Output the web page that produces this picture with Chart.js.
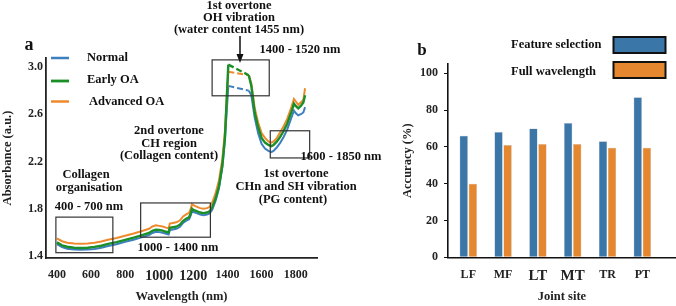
<!DOCTYPE html>
<html>
<head>
<meta charset="utf-8">
<script src="https://cdn.jsdelivr.net/npm/chart.js"></script>
<style>
  html, body { margin: 0; padding: 0; background: #fff; }
  #wrap { position: relative; width: 676px; height: 306px; overflow: hidden; }
  #boxA { position: absolute; left: 0; top: 0; width: 400px; height: 306px; }
  #boxB { position: absolute; left: 400px; top: 0; width: 276px; height: 306px; }
</style>
</head>
<body>
<div id="wrap">
  <div id="boxA"><canvas id="chartA"></canvas></div>
  <div id="boxB"><canvas id="chartB"></canvas></div>
</div>
<script>
// ---- panel a: NIR spectra ----
const wavelength = [400, 430, 460, 500, 540, 580, 620, 660, 700, 750, 800, 850, 900, 940, 960, 980,
    1000, 1020, 1040, 1055, 1062, 1080, 1100, 1120, 1140, 1160, 1175, 1185, 1192, 1200, 1215, 1240,
    1260, 1280, 1295, 1310, 1330, 1350, 1370, 1385, 1405, 1525, 1540, 1560, 1580, 1600, 1620, 1640,
    1657, 1670, 1690, 1710, 1730, 1750, 1765, 1775, 1790, 1800, 1815, 1830, 1845, 1855];

const normal = [1.50, 1.475, 1.462, 1.455, 1.452, 1.455, 1.46, 1.47, 1.485, 1.50, 1.52, 1.538, 1.56, 1.578, 1.595, 1.605,
    1.602, 1.597, 1.588, 1.582, 1.62, 1.625, 1.63, 1.645, 1.68, 1.70, 1.71, 1.745, 1.78, 1.772, 1.765, 1.75,
    1.745, 1.75, 1.76, 1.79, 1.865, 1.97, 2.15, 2.38, 2.84, 2.80, 2.76, 2.57, 2.44, 2.35, 2.31, 2.29,
    2.28, 2.29, 2.32, 2.36, 2.41, 2.47, 2.53, 2.57, 2.63, 2.61, 2.59, 2.60, 2.615, 2.66];

const earlyOA = [1.515, 1.49, 1.478, 1.47, 1.468, 1.47, 1.477, 1.487, 1.502, 1.518, 1.537, 1.555, 1.577, 1.595, 1.613, 1.623,
    1.62, 1.615, 1.605, 1.60, 1.638, 1.643, 1.648, 1.663, 1.698, 1.718, 1.728, 1.763, 1.80, 1.79, 1.782, 1.768,
    1.763, 1.768, 1.778, 1.81, 1.885, 1.99, 2.17, 2.40, 3.02, 2.93, 2.84, 2.61, 2.49, 2.40, 2.36, 2.34,
    2.33, 2.34, 2.37, 2.41, 2.46, 2.52, 2.58, 2.62, 2.69, 2.67, 2.65, 2.67, 2.70, 2.76];

const advancedOA = [1.55, 1.525, 1.512, 1.505, 1.503, 1.505, 1.512, 1.522, 1.537, 1.553, 1.572, 1.59, 1.612, 1.63, 1.65, 1.66,
    1.655, 1.65, 1.64, 1.635, 1.675, 1.68, 1.685, 1.70, 1.735, 1.755, 1.765, 1.80, 1.84, 1.83, 1.82, 1.805,
    1.80, 1.805, 1.815, 1.85, 1.93, 2.04, 2.22, 2.45, 2.96, 2.93, 2.86, 2.65, 2.53, 2.44, 2.40, 2.37,
    2.36, 2.37, 2.40, 2.45, 2.50, 2.56, 2.62, 2.66, 2.73, 2.71, 2.68, 2.70, 2.72, 2.82];

const xTicksA = [400, 600, 800, 1000, 1200, 1400, 1600, 1800];
const yTicksA = [1.4, 1.8, 2.2, 2.6, 3.0];

// ---- panel b: accuracy per joint site ----
const sites = ['LF', 'MF', 'LT', 'MT', 'TR', 'PT'];
const featureSelection = [66, 68, 70, 73, 63, 87];
const fullWavelength = [40, 61, 61.5, 61.5, 59.5, 59.5];
const yTicksB = [0, 20, 40, 60, 80, 100];

const SERIF = '"Liberation Serif", "DejaVu Serif", serif';
const INK = '#222';
const BLUE = '#3d7fbf', GREEN = '#1a8f28', ORANGE = '#ee8a2d';
const BAR_BLUE = '#3a76a8', BAR_ORANGE = '#e5872f';

const bold = (size) => ({ family: SERIF, weight: 'bold', size: size });

// water band (1400-1520 nm) is drawn dashed
const waterDash = ctx => (ctx.p0.parsed.x >= 1400 && ctx.p1.parsed.x <= 1530) ? [6, 3] : undefined;

const toPoints = (xs, ys) => xs.map((v, i) => ({ x: v, y: ys[i] }));

// draws boxes / labels / legends / arrow
const annotPlugin = {
    id: 'annot',
    afterDatasetsDraw(chart, args, opts) {
        const ctx = chart.ctx;
        const sx = chart.scales.x, sy = chart.scales.y;
        ctx.save();
        (opts.boxes || []).forEach(b => {
            const l = sx.getPixelForValue(b.x0), r = sx.getPixelForValue(b.x1);
            const t = sy.getPixelForValue(b.y1), btm = sy.getPixelForValue(b.y0);
            ctx.strokeStyle = '#333';
            ctx.lineWidth = 1.2;
            ctx.strokeRect(l, t, r - l, btm - t);
        });
        (opts.lineKeys || []).forEach(k => {
            ctx.strokeStyle = k.color;
            ctx.lineWidth = k.w;
            ctx.beginPath();
            ctx.moveTo(k.x0, k.y);
            ctx.lineTo(k.x1, k.y);
            ctx.stroke();
        });
        (opts.swatches || []).forEach(s => {
            ctx.fillStyle = s.color;
            ctx.fillRect(s.x, s.y, s.w, s.h);
            ctx.strokeStyle = '#111';
            ctx.lineWidth = 2;
            ctx.strokeRect(s.x, s.y, s.w, s.h);
        });
        if (opts.arrow) {
            const a = opts.arrow;
            ctx.strokeStyle = '#111';
            ctx.fillStyle = '#111';
            ctx.lineWidth = 1.5;
            ctx.beginPath();
            ctx.moveTo(a.x, a.y0);
            ctx.lineTo(a.x, a.y1 - 6);
            ctx.stroke();
            ctx.beginPath();
            ctx.moveTo(a.x - 3.5, a.y1 - 9);
            ctx.lineTo(a.x + 3.5, a.y1 - 9);
            ctx.lineTo(a.x, a.y1);
            ctx.closePath();
            ctx.fill();
        }
        ctx.fillStyle = '#111';
        ctx.textBaseline = 'middle';
        (opts.texts || []).forEach(tx => {
            ctx.font = 'bold ' + (tx.size || 12.5) + 'px ' + SERIF;
            ctx.textAlign = tx.align || 'center';
            ctx.fillText(tx.t, tx.x, tx.y);
        });
        ctx.restore();
    }
};

const chartA = new Chart(document.getElementById('chartA').getContext('2d'), {
    type: 'line',
    data: {
        datasets: [
            {
                label: 'Normal',
                data: toPoints(wavelength, normal),
                borderColor: BLUE,
                borderWidth: 2,
                pointRadius: 0,
                tension: 0,
                order: 2,
                segment: { borderDash: waterDash },
            },
            {
                label: 'Early OA',
                data: toPoints(wavelength, earlyOA),
                borderColor: GREEN,
                borderWidth: 2.4,
                pointRadius: 0,
                tension: 0,
                order: 0,
                segment: { borderDash: waterDash },
            },
            {
                label: 'Advanced OA',
                data: toPoints(wavelength, advancedOA),
                borderColor: ORANGE,
                borderWidth: 2,
                pointRadius: 0,
                tension: 0,
                order: 1,
                segment: { borderDash: waterDash },
            }
        ]
    },
    options: {
        responsive: true,
        maintainAspectRatio: false,
        animation: false,
        layout: { padding: { top: 58, right: 83, left: 0, bottom: 0 } },
        scales: {
            x: {
                type: 'linear',
                min: 336,
                max: 1925,
                afterBuildTicks: s => { s.ticks = xTicksA.map(v => ({ value: v })); },
                afterFit: s => { s.height = 48; },
                grid: { display: false, drawTicks: false },
                border: { display: true, color: INK, width: 1.8 },
                ticks: {
                    color: INK,
                    padding: 10,
                    maxRotation: 0,
                    autoSkip: false,
                    callback: v => String(v),
                    font: ctx => bold(ctx.tick && (ctx.tick.value === 1000 || ctx.tick.value === 1200) ? 14 : 12),
                },
                title: { display: true, text: 'Wavelength (nm)', color: INK, font: bold(12.5), padding: { top: 0, bottom: 2 } },
            },
            y: {
                min: 1.383,
                max: 3.076,
                afterBuildTicks: s => { s.ticks = yTicksA.map(v => ({ value: v })); },
                afterFit: s => { s.width = 46; },
                grid: { display: false, drawTicks: false },
                border: { display: true, color: INK, width: 1.8 },
                ticks: {
                    color: INK,
                    padding: 3,
                    font: bold(12),
                    callback: v => v.toFixed(1),
                },
                title: { display: true, text: 'Absorbance (a.u.)', color: INK, font: bold(12.5), padding: { top: 0, bottom: 0 } },
            },
        },
        plugins: {
            legend: { display: false },
            tooltip: { enabled: false },
            annot: {
                boxes: [
                    { x0: 394, x1: 728, y0: 1.428, y1: 1.729 },
                    { x0: 891, x1: 1300, y0: 1.559, y1: 1.849 },
                    { x0: 1310, x1: 1645, y0: 2.756, y1: 3.06 },
                    { x0: 1651, x1: 1882, y0: 2.23, y1: 2.46 },
                ],
                lineKeys: [
                    { x0: 51, x1: 69, y: 58, color: BLUE, w: 2.5 },
                    { x0: 51, x1: 69, y: 81, color: GREEN, w: 2.8 },
                    { x0: 51, x1: 69, y: 101.5, color: ORANGE, w: 2.5 },
                ],
                arrow: { x: 240, y0: 36, y1: 63 },
                texts: [
                    { t: 'a', x: 29, y: 45, size: 18 },
                    { t: 'Normal', x: 87, y: 58, align: 'left' },
                    { t: 'Early OA', x: 87, y: 80, align: 'left' },
                    { t: 'Advanced OA', x: 89, y: 101.5, align: 'left' },
                    { t: '1st overtone', x: 239, y: 6 },
                    { t: 'OH vibration', x: 239, y: 17.5 },
                    { t: '(water content 1455 nm)', x: 239, y: 30 },
                    { t: '1400 - 1520 nm', x: 300, y: 49.5 },
                    { t: '2nd overtone', x: 169, y: 131 },
                    { t: 'CH region', x: 169, y: 143.5 },
                    { t: '(Collagen content)', x: 169, y: 156 },
                    { t: 'Collagen', x: 86, y: 175 },
                    { t: 'organisation', x: 89, y: 188 },
                    { t: '400 - 700 nm', x: 89, y: 206.5 },
                    { t: '1000 - 1400 nm', x: 178, y: 248 },
                    { t: '1600 - 1850 nm', x: 341, y: 157 },
                    { t: '1st overtone', x: 296, y: 174 },
                    { t: 'CHn and SH vibration', x: 296, y: 187 },
                    { t: '(PG content)', x: 293, y: 200 },
                ],
            },
        },
    },
    plugins: [annotPlugin],
});

const chartB = new Chart(document.getElementById('chartB').getContext('2d'), {
    type: 'bar',
    data: {
        datasets: [
            {
                label: 'Feature selection',
                data: sites.map((s, i) => ({ x: i, y: featureSelection[i] })),
                backgroundColor: BAR_BLUE,
                borderColor: 'rgba(120,120,120,0.5)',
                borderWidth: 0.5,
                categoryPercentage: 0.52,
                barPercentage: 0.92,
            },
            {
                label: 'Full wavelength',
                data: sites.map((s, i) => ({ x: i, y: fullWavelength[i] })),
                backgroundColor: BAR_ORANGE,
                borderColor: 'rgba(120,120,120,0.5)',
                borderWidth: 0.5,
                categoryPercentage: 0.52,
                barPercentage: 0.92,
            }
        ]
    },
    options: {
        responsive: true,
        maintainAspectRatio: false,
        animation: false,
        layout: { padding: { top: 64, right: 0, left: 0, bottom: 0 } },
        scales: {
            x: {
                type: 'linear',
                offset: false,
                min: -0.583,
                max: 5.968,
                afterBuildTicks: s => { s.ticks = sites.map((c, i) => ({ value: i })); },
                afterFit: s => { s.height = 48.7; },
                grid: { display: false, drawTicks: false },
                border: { display: true, color: '#111', width: 1.6 },
                ticks: {
                    color: INK,
                    padding: 10,
                    maxRotation: 0,
                    autoSkip: false,
                    callback: v => sites[v] ?? '',
                    font: ctx => bold(ctx.tick && (ctx.tick.value === 2 || ctx.tick.value === 3) ? 15 : 12),
                },
                title: { display: true, text: 'Joint site', color: INK, font: bold(12.5), padding: { top: 0, bottom: 2 } },
            },
            y: {
                min: 0,
                max: 105,
                afterBuildTicks: s => { s.ticks = yTicksB.map(v => ({ value: v })); },
                afterFit: s => { s.width = 48; },
                grid: { display: true, drawOnChartArea: false, drawTicks: true, tickLength: 4, color: '#111' },
                border: { display: true, color: '#111', width: 1.6 },
                ticks: { color: INK, padding: 6, font: bold(12) },
                title: { display: true, text: 'Accuracy (%)', color: INK, font: bold(12.5), padding: { top: 0, bottom: 0 } },
            },
        },
        plugins: {
            legend: { display: false },
            tooltip: { enabled: false },
            annot: {
                swatches: [
                    { x: 213.5, y: 37, w: 52, h: 16, color: BAR_BLUE },
                    { x: 213.5, y: 62, w: 52, h: 16, color: BAR_ORANGE },
                ],
                texts: [
                    { t: 'b', x: 22, y: 51, size: 17 },
                    { t: 'Feature selection', x: 111, y: 44.5, align: 'left' },
                    { t: 'Full wavelength', x: 111, y: 71.5, align: 'left' },
                ],
            },
        },
    },
    plugins: [annotPlugin],
});
</script>
</body>
</html>
